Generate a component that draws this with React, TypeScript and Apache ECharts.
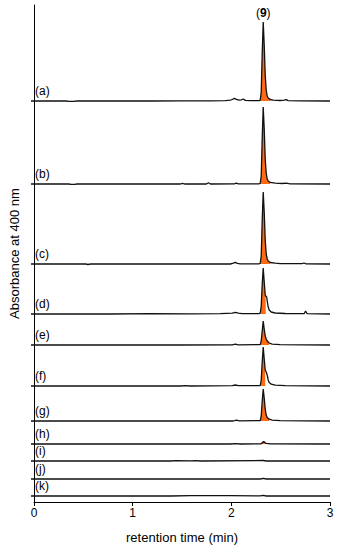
import React, { useEffect, useRef } from "react";
import * as echarts from "echarts";

// ---- data ----
const traceLabels = ["(a)", "(b)", "(c)", "(d)", "(e)", "(f)", "(g)", "(h)", "(i)", "(j)", "(k)"];

const traceA: number[][] = [[0,0],[0.35,0],[0.38,-0.4],[0.43,-0.4],[0.46,0],[1.2,0],[1.5,0.2],[1.8,0.1],[1.95,0.4],[2.0,0.8],[2.02,1.5],[2.04,2.6],[2.06,1.6],[2.09,0.8],[2.11,1.2],[2.13,2.0],[2.15,0.6],[2.2,0.3],[2.29,0.3],[2.30,0.8],[2.31,9],[2.32,48],[2.33,79],[2.34,56],[2.35,26],[2.36,11],[2.37,5],[2.38,3],[2.40,1.5],[2.43,0.8],[2.50,0.5],[2.54,0.8],[2.56,1.3],[2.58,0.4],[2.7,0.1],[3,0]];
const traceB: number[][] = [[0,0],[0.38,0],[0.40,-0.4],[0.44,-0.4],[0.46,0],[1.5,0],[1.52,0.6],[1.54,0],[1.76,0],[1.78,1.2],[1.80,0],[2.04,0.2],[2.06,0.9],[2.08,0.2],[2.29,0.2],[2.30,0.8],[2.31,8],[2.32,46],[2.33,77],[2.34,55],[2.35,25],[2.36,11],[2.37,5],[2.38,3],[2.40,1.6],[2.45,0.8],[2.52,0.5],[2.56,0.8],[2.6,0.2],[3,0]];
const traceC: number[][] = [[0,0],[0.55,0],[0.57,-0.5],[0.6,0],[2.0,0],[2.03,0.8],[2.05,1.6],[2.07,0.6],[2.1,0.2],[2.29,0.2],[2.30,0.8],[2.31,8],[2.32,44],[2.33,72],[2.34,52],[2.35,24],[2.36,10],[2.37,5],[2.38,3],[2.40,1.5],[2.45,0.8],[2.5,0.4],[2.72,0.3],[2.74,1],[2.76,0.2],[3,0]];
const traceD: number[][] = [[0,0],[0.4,0.2],[0.8,0],[1.2,0.3],[1.6,0.1],[1.9,0.4],[2.02,0.8],[2.05,1.6],[2.08,0.8],[2.12,0.4],[2.29,0.4],[2.30,1],[2.31,8],[2.32,30],[2.33,46],[2.34,32],[2.35,19],[2.355,18],[2.365,17],[2.37,13],[2.38,7],[2.39,4],[2.41,2],[2.45,1],[2.55,0.5],[2.74,0.3],[2.755,3],[2.77,0.3],[3,0]];
const traceE: number[][] = [[0,0],[1.5,0],[2.02,0.2],[2.05,0.9],[2.08,0.2],[2.30,0.4],[2.31,4],[2.32,14],[2.33,24],[2.34,16],[2.35,9],[2.36,6],[2.37,4],[2.39,2],[2.42,0.8],[2.5,0.3],[3,0]];
const traceF: number[][] = [[0,0],[1.5,0],[1.55,0.4],[1.6,0],[2.02,0.3],[2.05,1.0],[2.08,0.3],[2.30,0.5],[2.31,6],[2.32,24],[2.33,39],[2.34,27],[2.35,16],[2.36,14],[2.37,11],[2.38,6],[2.39,3.5],[2.41,1.8],[2.45,0.8],[2.55,0.3],[3,0]];
const traceG: number[][] = [[0,0],[2.03,0],[2.06,0.9],[2.09,0.2],[2.30,0.4],[2.31,5],[2.32,20],[2.33,32],[2.34,23],[2.35,12],[2.36,6],[2.37,3.5],[2.39,1.8],[2.42,0.8],[2.5,0.3],[3,0]];
const traceH: number[][] = [[0,0],[2.0,0],[2.05,0.3],[2.1,0],[2.31,0.2],[2.325,1.8],[2.335,2.6],[2.345,1.8],[2.36,0.6],[2.4,0.2],[3,0]];
const traceI: number[][] = [[0,0],[1.4,0],[1.45,0.3],[1.6,0.2],[1.65,0.4],[1.7,0],[2.33,0.5],[2.36,0],[3,0]];
const traceJ: number[][] = [[0,0],[2.3,0],[2.33,0.7],[2.36,0],[3,0]];
const traceK: number[][] = [[0,0],[1.4,0],[1.6,0.3],[2.0,0.3],[2.3,0.1],[2.33,0.6],[2.36,0],[3,0]];

const traces = [traceA, traceB, traceC, traceD, traceE, traceF, traceG, traceH, traceI, traceJ, traceK];
// retention-time window of the shaded compound (9) peak, per trace (null = none)
const fillStart = 2.30;
const fillEnd: (number | null)[] = [2.40, 2.40, 2.40, 2.355, 2.40, 2.355, 2.40, 2.37, null, null, null];

const xTicks = { min: 0, max: 3, interval: 1 };
const peakLabel = "9";

// ---- layout ----
const W = 340, H = 550;
const plotLeft = 31, plotRight = 330, plotTop = 5, plotBottom = 502;
const baselines = [101, 184, 264, 314, 345, 386, 421, 444, 461, 479, 496];
const yMin = -5, yMax = 95, gridH = 100; // 1 unit = 1 px
const FONT = "'Liberation Sans', Arial, sans-serif";
const ORANGE = "#ff6a13";
const LINE = "#111";

export default function App() {
  const ref = useRef<HTMLDivElement>(null);
  useEffect(() => {
    if (!ref.current) return;
    const chart = echarts.init(ref.current, null, { renderer: "svg" });

    const grids: any[] = [
      { left: plotLeft, right: W - plotRight, top: plotTop, bottom: H - plotBottom },
    ];
    const xAxes: any[] = [
      {
        gridIndex: 0, type: "value", min: xTicks.min, max: xTicks.max, interval: xTicks.interval,
        axisLine: { show: true, lineStyle: { color: "#000", width: 1 } },
        axisTick: { show: true, inside: false, length: 4, lineStyle: { color: "#000" } },
        axisLabel: { color: "#000", fontSize: 12, fontFamily: FONT, margin: 5 },
        splitLine: { show: false },
        name: "retention time (min)", nameLocation: "middle", nameGap: 29,
        nameTextStyle: { color: "#000", fontSize: 13, fontFamily: FONT },
      },
    ];
    const yAxes: any[] = [
      {
        gridIndex: 0, type: "value", min: 0, max: 1,
        axisLine: { show: true, lineStyle: { color: "#000", width: 1 } },
        axisTick: { show: false }, axisLabel: { show: false }, splitLine: { show: false },
        name: "Absorbance at 400 nm", nameLocation: "middle", nameGap: 13,
        nameTextStyle: { color: "#000", fontSize: 13, fontFamily: FONT },
      },
    ];
    const series: any[] = [];
    const graphics: any[] = [];

    traces.forEach((tr, i) => {
      const gi = i + 1;
      const base = baselines[i];
      grids.push({ left: plotLeft, right: W - plotRight, top: base - yMax, height: gridH });
      xAxes.push({ gridIndex: gi, type: "value", min: xTicks.min, max: xTicks.max, show: false });
      yAxes.push({ gridIndex: gi, type: "value", min: yMin, max: yMax, show: false });

      const fe = fillEnd[i];
      if (fe !== null) {
        series.push({
          type: "line", xAxisIndex: gi, yAxisIndex: gi, clip: false,
          data: tr.filter((p) => p[0] >= fillStart && p[0] <= fe),
          symbol: "none", lineStyle: { width: 0, opacity: 0 },
          areaStyle: { color: ORANGE, opacity: 1, origin: 0 },
          z: 2, silent: true,
        });
      }
      const s: any = {
        type: "line", xAxisIndex: gi, yAxisIndex: gi, clip: false,
        data: tr, symbol: "none", lineStyle: { color: LINE, width: 1.3 },
        z: 3, silent: true,
      };
      if (i === 0) {
        s.markPoint = {
          symbol: "circle", symbolSize: 0,
          data: [{ type: "max", valueDim: "y" }],
          label: {
            show: true, position: "top", distance: 3,
            formatter: "({b|" + peakLabel + "})",
            color: "#000", fontSize: 12, fontFamily: FONT,
            rich: { b: { fontWeight: "bold", fontSize: 12, color: "#000", fontFamily: FONT } },
          },
        };
      }
      series.push(s);

      graphics.push({
        type: "text", x: 35, y: base - 10,
        style: { text: traceLabels[i], fill: "#000", fontSize: 12, fontFamily: FONT, verticalAlign: "middle", align: "left" },
      });
    });

    chart.setOption({
      animation: false,
      backgroundColor: "#fff",
      grid: grids,
      xAxis: xAxes,
      yAxis: yAxes,
      series,
      graphic: graphics,
    });
    return () => chart.dispose();
  }, []);
  return <div ref={ref} style={{ position: "fixed", left: 0, top: 0, width: W, height: H }} />;
}
